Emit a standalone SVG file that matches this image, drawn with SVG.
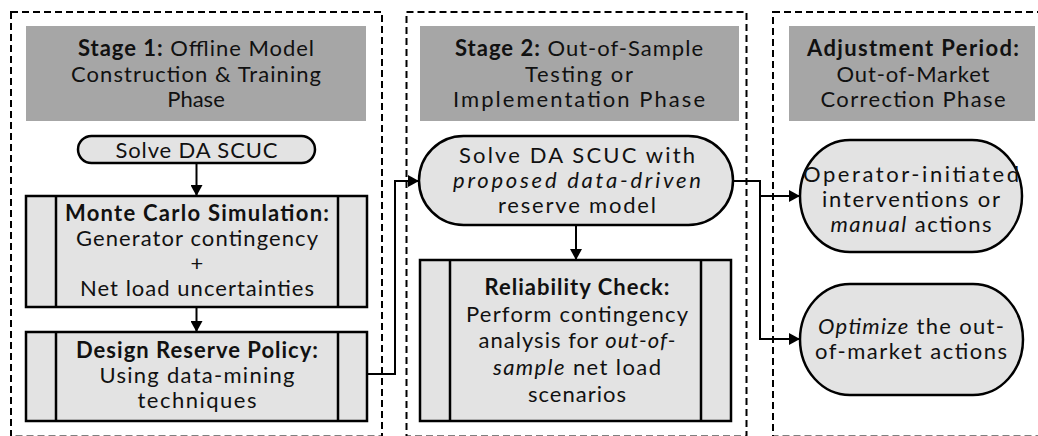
<svg xmlns="http://www.w3.org/2000/svg" width="1038" height="436" viewBox="0 0 1038 436">
<defs>
<marker id="arr" markerUnits="userSpaceOnUse" markerWidth="12" markerHeight="12" refX="11" refY="6" orient="auto">
<path d="M0,0 L11,6 L0,12 z" fill="#000"/>
</marker>
<style>
.stage{fill:none;stroke:#000;stroke-width:2;stroke-dasharray:7,4}
.hdr{fill:#a6a6a6;stroke:none}
.node{fill:#e3e3e3;stroke:#000;stroke-width:2.5}
.sep{stroke:#000;stroke-width:2.5}
.con{fill:none;stroke:#000;stroke-width:2}
text{font-family:Lato,"Liberation Sans",sans-serif;font-size:22px;fill:#111;text-anchor:middle}
.b{font-weight:bold}
.i{font-style:italic}
</style>
</defs>
<rect width="1038" height="436" fill="#fff"/>
<g id="stage1">
<rect class="stage" x="11" y="12" width="371" height="424.5"/>
<rect class="hdr" x="26" y="26" width="340" height="95"/>
<text x="196" y="56" textLength="236" lengthAdjust="spacing"><tspan class="b">Stage 1:</tspan> Offline Model</text>
<text x="196" y="82" textLength="250" lengthAdjust="spacing">Construction &amp; Training</text>
<text x="196" y="107">Phase</text>
</g>
<g id="stage2">
<rect class="stage" x="406.5" y="12" width="340" height="424.5"/>
<rect class="hdr" x="420" y="26" width="319" height="95"/>
<text x="579" y="56" textLength="248" lengthAdjust="spacing"><tspan class="b">Stage 2:</tspan> Out-of-Sample</text>
<text x="579" y="82" textLength="108" lengthAdjust="spacing">Testing or</text>
<text x="579" y="107" textLength="252" lengthAdjust="spacing">Implementation Phase</text>
</g>
<g id="stage3">
<rect class="stage" x="773" y="12" width="280" height="424.5"/>
<rect class="hdr" x="789" y="26" width="246" height="95"/>
<text x="913" y="56" textLength="212" lengthAdjust="spacing" class="b">Adjustment Period:</text>
<text x="913" y="82" textLength="153" lengthAdjust="spacing">Out-of-Market</text>
<text x="913" y="107" textLength="185" lengthAdjust="spacing">Correction Phase</text>
</g>
<g id="solve1">
<rect class="node" x="78" y="136" width="237" height="27" rx="13.5"/>
<text x="196.5" y="158" textLength="162" lengthAdjust="spacing">Solve DA SCUC</text>
</g>
<g id="montecarlo">
<rect class="node" x="26" y="196" width="341" height="111"/>
<line class="sep" x1="56" y1="196" x2="56" y2="307"/>
<line class="sep" x1="338" y1="196" x2="338" y2="307"/>
<text x="197" y="221" textLength="264" lengthAdjust="spacing" class="b">Monte Carlo Simulation:</text>
<text x="197" y="246" textLength="242" lengthAdjust="spacing">Generator contingency</text>
<text x="197" y="271">+</text>
<text x="197" y="296" textLength="234" lengthAdjust="spacing">Net load uncertainties</text>
</g>
<g id="design">
<rect class="node" x="26" y="332" width="341" height="89"/>
<line class="sep" x1="56" y1="332" x2="56" y2="421"/>
<line class="sep" x1="338" y1="332" x2="338" y2="421"/>
<text x="197" y="358" textLength="242" lengthAdjust="spacing" class="b">Design Reserve Policy:</text>
<text x="197" y="383" textLength="195" lengthAdjust="spacing">Using data-mining</text>
<text x="197" y="408" textLength="119" lengthAdjust="spacing">techniques</text>
</g>
<g id="solve2">
<rect class="node" x="419" y="136" width="314" height="89" rx="44.5"/>
<text x="577" y="163" textLength="236" lengthAdjust="spacing">Solve DA SCUC with</text>
<text x="577" y="188" textLength="248" lengthAdjust="spacing" class="i">proposed data-driven</text>
<text x="577" y="213" textLength="158" lengthAdjust="spacing">reserve model</text>
</g>
<g id="reliability">
<rect class="node" x="420" y="260" width="311" height="161"/>
<line class="sep" x1="450" y1="260" x2="450" y2="421"/>
<line class="sep" x1="701" y1="260" x2="701" y2="421"/>
<text x="577" y="295" textLength="185" lengthAdjust="spacing" class="b">Reliability Check:</text>
<text x="577" y="322" textLength="222" lengthAdjust="spacing">Perform contingency</text>
<text x="577" y="348" textLength="197" lengthAdjust="spacing">analysis for <tspan class="i">out-of-</tspan></text>
<text x="577" y="375" textLength="168" lengthAdjust="spacing"><tspan class="i">sample</tspan> net load</text>
<text x="577" y="402" textLength="98" lengthAdjust="spacing">scenarios</text>
</g>
<g id="operator">
<rect class="node" x="800" y="140" width="222" height="112" rx="50" ry="56"/>
<text x="911" y="182" textLength="216" lengthAdjust="spacing">Operator-initiated</text>
<text x="911" y="207" textLength="178" lengthAdjust="spacing">interventions or</text>
<text x="911" y="232" textLength="161" lengthAdjust="spacing"><tspan class="i">manual</tspan> actions</text>
</g>
<g id="optimize">
<rect class="node" x="800" y="284" width="223" height="111" rx="50" ry="55.5"/>
<text x="911" y="334" textLength="186" lengthAdjust="spacing"><tspan class="i">Optimize</tspan> the out-</text>
<text x="911" y="359" textLength="192" lengthAdjust="spacing">of-market actions</text>
</g>
<g id="connectors">
<path class="con" d="M196.5,163 V196" marker-end="url(#arr)"/>
<path class="con" d="M196.5,307 V332" marker-end="url(#arr)"/>
<path class="con" d="M367,374 H395 V181 H419" marker-end="url(#arr)"/>
<path class="con" d="M576,225 V260" marker-end="url(#arr)"/>
<path class="con" d="M733,181 H760 V196 H800" marker-end="url(#arr)"/>
<path class="con" d="M760,196 V339 H800" marker-end="url(#arr)"/>
</g>
</svg>
